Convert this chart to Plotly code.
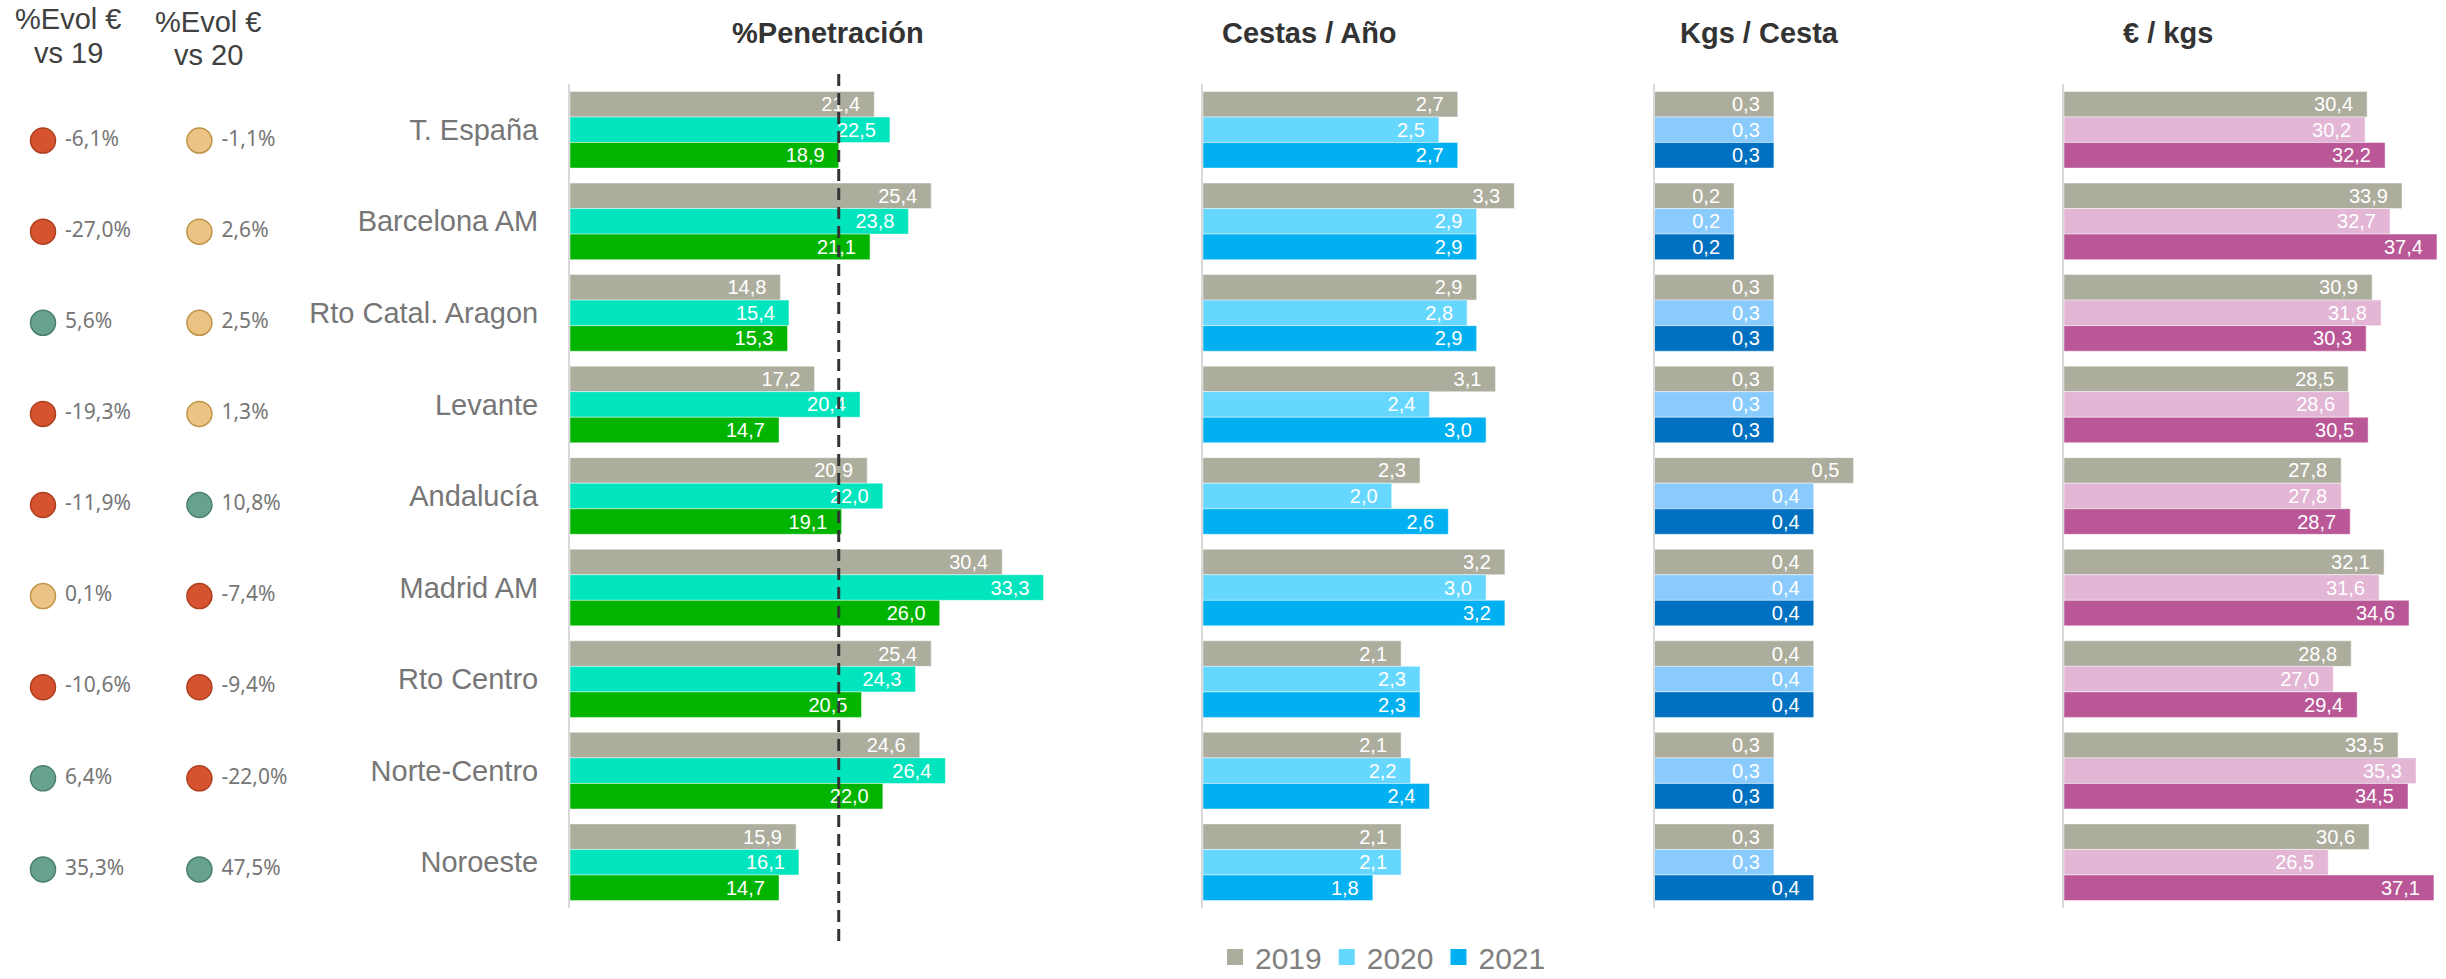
import plotly.graph_objects as go

W, H = 2446, 979

categories = ["T. España", "Barcelona AM", "Rto Catal. Aragon", "Levante", "Andalucía",
              "Madrid AM", "Rto Centro", "Norte-Centro", "Noroeste"]
years = ["2019", "2020", "2021"]

pen_2019 = [21.4, 25.4, 14.8, 17.2, 20.9, 30.4, 25.4, 24.6, 15.9]
pen_2020 = [22.5, 23.8, 15.4, 20.4, 22.0, 33.3, 24.3, 26.4, 16.1]
pen_2021 = [18.9, 21.1, 15.3, 14.7, 19.1, 26.0, 20.5, 22.0, 14.7]

cestas_2019 = [2.7, 3.3, 2.9, 3.1, 2.3, 3.2, 2.1, 2.1, 2.1]
cestas_2020 = [2.5, 2.9, 2.8, 2.4, 2.0, 3.0, 2.3, 2.2, 2.1]
cestas_2021 = [2.7, 2.9, 2.9, 3.0, 2.6, 3.2, 2.3, 2.4, 1.8]

kgs_2019 = [0.3, 0.2, 0.3, 0.3, 0.5, 0.4, 0.4, 0.3, 0.3]
kgs_2020 = [0.3, 0.2, 0.3, 0.3, 0.4, 0.4, 0.4, 0.3, 0.3]
kgs_2021 = [0.3, 0.2, 0.3, 0.3, 0.4, 0.4, 0.4, 0.3, 0.4]

eur_2019 = [30.4, 33.9, 30.9, 28.5, 27.8, 32.1, 28.8, 33.5, 30.6]
eur_2020 = [30.2, 32.7, 31.8, 28.6, 27.8, 31.6, 27.0, 35.3, 26.5]
eur_2021 = [32.2, 37.4, 30.3, 30.5, 28.7, 34.6, 29.4, 34.5, 37.1]

evol_vs19 = [-6.1, -27.0, 5.6, -19.3, -11.9, 0.1, -10.6, 6.4, 35.3]
evol_vs20 = [-1.1, 2.6, 2.5, 1.3, 10.8, -7.4, -9.4, -22.0, 47.5]

panel_titles = ["%Penetración", "Cestas / Año", "Kgs / Cesta", "€ / kgs"]

GRAY = "#ADAD9E"
panels = [
    ((pen_2019, pen_2020, pen_2021), (GRAY, "#00E5BE", "#00B400"), "", [570, 1150], 40.79),
    ((cestas_2019, cestas_2020, cestas_2021), (GRAY, "#66D7FE", "#00B0F0"), "2", [1203, 1620], 4.42),
    ((kgs_2019, kgs_2020, kgs_2021), (GRAY, "#8ACBFE", "#0070C0"), "3", [1654.5, 2000], 0.868),
    ((eur_2019, eur_2020, eur_2021), (GRAY, "#E2B6D4", "#BA5797"), "4", [2064, 2446], 38.31),
]

SANS = "Liberation Sans, Arial, sans-serif"


def fmt(v):
    return f"{v:.1f}".replace(".", ",")


def fmt_pct(v):
    return "\u00a0" + f"{v:.1f}".replace(".", ",") + "%"


NB = "\u00a0\u00a0"

fig = go.Figure()

for idx, (series, colors, sfx, dom, rmax) in enumerate(panels):
    for yr, vals, col in zip(years, series, colors):
        fig.add_trace(go.Bar(
            y=categories, x=vals, orientation="h", name=yr,
            marker=dict(color=col, line=dict(color="rgba(255,255,255,0.45)", width=1)),
            text=[fmt(v) + NB for v in vals],
            textposition="inside", insidetextanchor="end", constraintext="none",
            textfont=dict(color="white", size=20, family=SANS),
            xaxis="x" + sfx, yaxis="y" + sfx,
            showlegend=False, hoverinfo="skip", cliponaxis=False,
        ))

# legend entries (colours of the Cestas / Año panel)
for yr, col in zip(years, panels[1][1]):
    fig.add_trace(go.Scatter(
        x=[None], y=[None], mode="markers", name=yr,
        marker=dict(symbol="square", size=17, color=col),
        xaxis="x2", yaxis="y2", showlegend=True, hoverinfo="skip",
    ))


def dot_colors(vals):
    fill, line = [], []
    for v in vals:
        if v > 5:
            fill.append("#67A38C"); line.append("#4A7F6B")
        elif v < -5:
            fill.append("#D6532F"); line.append("#AE3F1F")
        else:
            fill.append("#EBC384"); line.append("#BF9448")
    return fill, line


for col_idx, vals in enumerate([evol_vs19, evol_vs20]):
    fill, line = dot_colors(vals)
    fig.add_trace(go.Scatter(
        x=[col_idx] * len(categories), y=categories, mode="markers+text",
        marker=dict(size=25, color=fill, line=dict(color=line, width=1.5)),
        text=[fmt_pct(v) for v in vals], textposition="middle right",
        textfont=dict(family="Noto Sans, sans-serif", size=21, color="#767676"),
        xaxis="x5", yaxis="y5", showlegend=False, hoverinfo="skip", cliponaxis=False,
    ))

ydom = [1 - 908 / H, 1 - 84 / H]
layout = dict(
    width=W, height=H, margin=dict(l=0, r=0, t=0, b=0, autoexpand=False),
    paper_bgcolor="white", plot_bgcolor="white",
    barmode="group", bargap=0.163, bargroupgap=0,
    font=dict(family=SANS),
    legend=dict(orientation="h", xref="container", yref="container",
                x=1215 / W, y=1 - 957 / H, xanchor="left", yanchor="middle",
                font=dict(size=30, color="#7F7F7F", family=SANS), bgcolor="rgba(0,0,0,0)",
                itemwidth=30, traceorder="normal"),
)

for idx, (series, colors, sfx, dom, rmax) in enumerate(panels):
    layout["xaxis" + sfx] = dict(domain=[dom[0] / W, min(dom[1] / W, 1.0)], range=[0, rmax],
                                 visible=False, anchor="y" + sfx, fixedrange=True)
    yax = dict(domain=ydom, anchor="x" + sfx, type="category",
               categoryorder="array", categoryarray=categories,
               range=[len(categories) - 0.5, -0.5],
               showline=True, linecolor="#D9D9D9", linewidth=2, showgrid=False,
               zeroline=False, ticks="", fixedrange=True, automargin=False)
    if idx == 0:
        yax.update(showticklabels=True, tickfont=dict(size=29, color="#767676", family=SANS),
                   ticklabelstandoff=24)
    else:
        yax.update(showticklabels=False)
    layout["yaxis" + sfx] = yax

# dots columns axes
r0 = -43 / 156.4
layout["xaxis5"] = dict(domain=[0, 540 / W], range=[r0, r0 + 540 / 156.4], visible=False,
                        anchor="y5", fixedrange=True)
layout["yaxis5"] = dict(domain=[1 - 915 / H, 1 - 95 / H], anchor="x5", type="category",
                        categoryorder="array", categoryarray=categories,
                        range=[len(categories) - 0.5, -0.5],
                        visible=False, fixedrange=True)

fig.update_layout(**layout)

# reference line at T. España 2021 penetration
fig.add_shape(type="line", xref="x", yref="paper", x0=pen_2021[0], x1=pen_2021[0],
              y0=1 - 941 / H, y1=1 - 70 / H,
              line=dict(color="#333333", width=3, dash="12px,7px"))

title_x = [828, 1309, 1759, 2168]
for t, tx in zip(panel_titles, title_x):
    fig.add_annotation(text="<b>" + t + "</b>", x=tx / W, y=1 - 33 / H, xref="paper", yref="paper",
                       xanchor="center", yanchor="middle", showarrow=False,
                       font=dict(size=29, color="#333333", family=SANS))

headers = [("%Evol €", "vs 19", 68, 19, 53), ("%Evol €", "vs 20", 208, 22, 55)]
for l1, l2, hx, y1, y2 in headers:
    for txt, yy in [(l1, y1), (l2, y2)]:
        fig.add_annotation(text=txt, x=hx / W, y=1 - yy / H, xref="paper", yref="paper",
                           xanchor="center", yanchor="middle", showarrow=False,
                           font=dict(size=29, color="#404040", family=SANS))

fig.write_html("out.html")
